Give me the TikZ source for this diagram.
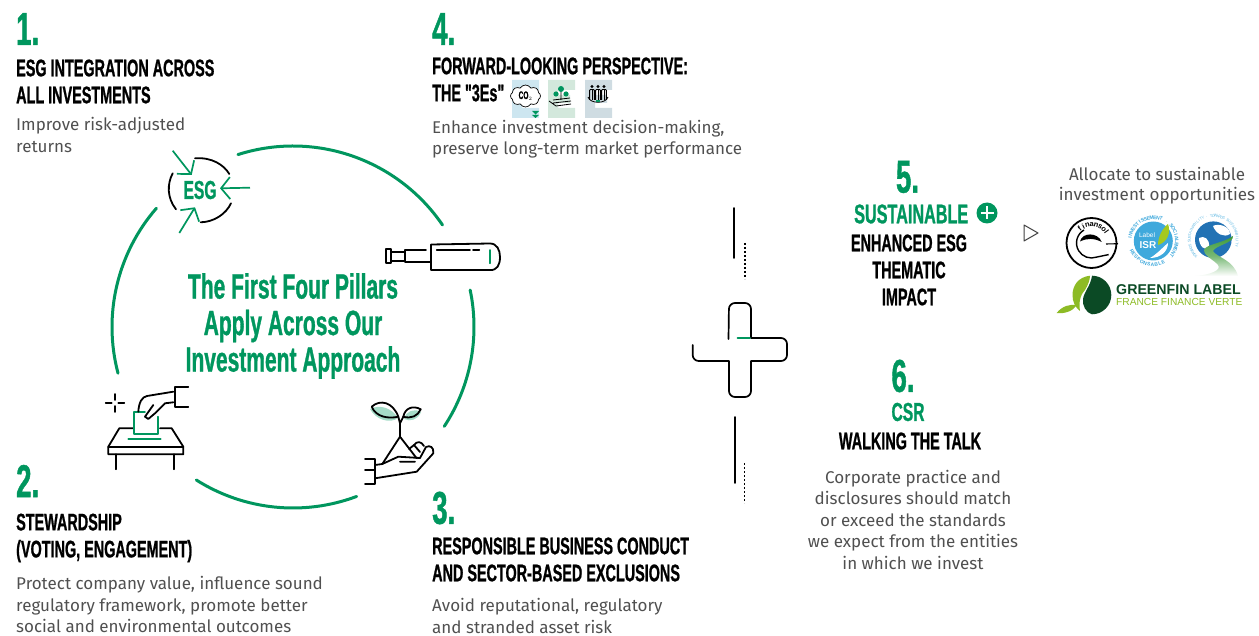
\documentclass[tikz,border=0pt]{standalone}
\usepackage{fontspec}
\usepackage{tikz}
\usetikzlibrary{calc,arrows.meta,shapes.symbols}
\setmainfont{Fira Sans}
\newfontfamily\headfont[FakeStretch=0.6,BoldFeatures={FakeBold=0.9}]{Liberation Sans}
\newfontfamily\logofont{Liberation Sans}
\definecolor{esggreen}{HTML}{00965E}
\definecolor{bodygray}{HTML}{505050}
\definecolor{mintleaf}{HTML}{A6DCC8}
\definecolor{isrblue}{HTML}{3FA9DC}
\definecolor{globeblue}{HTML}{2272B4}
\definecolor{roadgreen}{HTML}{3E9B3A}
\definecolor{finleaf}{HTML}{8DBB25}
\definecolor{findark}{HTML}{0B4A25}
\tikzset{
  numtext/.style={font=\headfont\bfseries\fontsize{46}{46}\selectfont,text=esggreen,inner sep=0pt},
  headtext/.style={font=\headfont\bfseries\fontsize{24}{27}\selectfont,text=black,inner sep=0pt},
  bodytext/.style={font=\fontsize{17}{21.5}\selectfont,text=bodygray,inner sep=0pt},
  pillartext/.style={font=\headfont\bfseries\fontsize{35}{36.5}\selectfont,text=esggreen,inner sep=0pt,align=center},
  pillararc/.style={draw=esggreen,line width=3pt,line cap=round},
  iconline/.style={draw=black,line width=1.8pt,line cap=round,line join=round},
  greenline/.style={draw=esggreen,line width=1.8pt,line cap=round,line join=round},
  esgarrow/.style={draw=esggreen,line width=1.7pt,-{Straight Barb[length=9pt,width=22pt]}},
  ringglyph/.style={inner sep=0pt,outer sep=0pt},
}
% letters round a logo: centre, radius, first angle, step, turn, style, letters
\newcommand{\ringtext}[7]{%
  \foreach \c [count=\n from 0] in {#7} {
    \pgfmathsetmacro{\ang}{#3+\n*#4}
    \node[ringglyph,#6,rotate=\ang+#5] (#1\n) at ([shift={(\ang:#2pt)}]#1) {\c};
  }}

\begin{document}
\begin{tikzpicture}[x=1pt,y=-1pt]
    \useasboundingbox (0,0) rectangle (1259,636);

    % pillars
    \node[numtext,anchor=west] (numA) at (16,29) {1.};
    \node[headtext,anchor=west,align=left] (headA) at (16,81.5) {ESG INTEGRATION ACROSS\\ALL INVESTMENTS};
    \node[bodytext,anchor=west,align=left] (bodyA) at (16,135) {Improve risk-adjusted\\returns};

    \node[numtext,anchor=west] (numB) at (16,481) {2.};
    \node[headtext,anchor=west,align=left] (headB) at (16,538) {STEWARDSHIP\\(VOTING, ENGAGEMENT)};
    \node[bodytext,anchor=west,align=left] (bodyB) at (16,604.5) {Protect company value, influence sound\\regulatory framework, promote better\\social and environmental outcomes};

    \node[numtext,anchor=west] (numC) at (432,508) {3.};
    \node[headtext,anchor=west,align=left] (headC) at (432,559.5) {RESPONSIBLE BUSINESS CONDUCT\\AND SECTOR-BASED EXCLUSIONS};
    \node[bodytext,anchor=west,align=left] (bodyC) at (432,616) {Avoid reputational, regulatory\\and stranded asset risk};

    \node[numtext,anchor=west] (numD) at (432,29) {4.};
    \node[headtext,anchor=west,align=left] (headD) at (432,79.5) {FORWARD-LOOKING PERSPECTIVE:\\THE "3Es"};
    \node[bodytext,anchor=west,align=left] (bodyD) at (432,139) {Enhance investment decision-making,\\preserve long-term market performance};

    \node[numtext] (numE) at (907.5,177) {5.};
    \node[headtext,text=esggreen,anchor=west,font=\headfont\bfseries\fontsize{27}{27}\selectfont] (headE) at (854,214) {SUSTAINABLE};
    \node[circle,fill=esggreen,minimum size=21pt,inner sep=0pt] (plusE) at (987,213) {};
    \draw[white,line width=2.4pt] (980.5,213) -- (993.5,213) (987,206.5) -- (987,219.5);
    \node[headtext,align=center] (listE) at (909,270) {ENHANCED ESG\\THEMATIC\\IMPACT};

    \node[numtext] (numF) at (903,376) {6.};
    \node[headtext,text=esggreen,font=\headfont\bfseries\fontsize{26}{27}\selectfont] (headF) at (908,412) {CSR};
    \node[headtext] (walkF) at (910,441) {WALKING THE TALK};
    \node[bodytext,align=center] (bodyF) at (913,519.5) {Corporate practice and\\disclosures should match\\or exceed the standards\\we expect from the entities\\in which we invest};

    \node[bodytext,align=center] (bodyG) at (1157,186) {Allocate to sustainable\\[-1.5pt]investment opportunities};
    \draw[draw=black!75,line width=1pt,line join=round] (1024,225) -- (1024,241) -- (1038,233) -- cycle;

    % circle of pillars
    \node[pillartext] (pillars) at (293,326) {The First Four Pillars\\Apply Across Our\\Investment Approach};
    \coordinate (hub) at (293,327);
    \foreach \a/\b in {107.7/34.3,11.8/-33.3,-69.4/-122.3,139/194.8} {
        \draw[pillararc] ([shift={(\a:181pt)}]hub) arc[start angle=\a,end angle=\b,radius=181pt];
    }

    % esg icon
    \node[font=\headfont\bfseries\fontsize{26}{26}\selectfont,text=esggreen,inner sep=0pt] (esg) at (200,190) {ESG};
    \draw[iconline] (195,158.3) .. controls (212,157) and (224,165) .. (229.3,174);
    \draw[iconline] (172.7,173.3) .. controls (167,184) and (167,198) .. (176,209.3);
    \draw[iconline] (200.7,222.3) .. controls (214,222) and (226,214) .. (231,203.3);
    \foreach \i/\fx/\fy/\tx/\ty in {a/172.7/150.7/191.7/175,b/250/187.7/220/188.3,c/179.3/233/195/207.3} {
        \coordinate (from\i) at (\fx,\fy);
        \coordinate (tip\i) at (\tx,\ty);
        \draw[esgarrow] (from\i) -- (tip\i);
    }

    % telescope
    \draw[iconline] (431,244.5) -- (490,243.5) .. controls (497,243.5) and (500,250) .. (500,257) .. controls (500,265) and (497,270.5) .. (490,270) -- (431,270) -- cycle;
    \draw[iconline] (436.7,250) -- (470,250) (473,250) -- (479.3,250);
    \draw[greenline] (489.7,250) -- (489.7,263.3);
    \draw[iconline] (426,250.3) -- (405,250.3) -- (405,261.7) -- (431,261.7);
    \draw[iconline] (385.7,249.3) rectangle (391,262.7);
    \draw[iconline] (391,251.7) -- (405,251.7) (391,261) -- (405,261);

    % ballot
    \draw[iconline] (105.7,402.7) -- (111.7,402.7) (118.3,402.7) -- (124.3,402.7) (115,394) -- (115,400) (115,406) -- (115,412);
    \draw[iconline] (133.3,428.3) -- (119.3,428.3) -- (108.3,446.7) -- (108.3,454.3) -- (183.3,454.3) -- (183.3,446.7) -- (171.7,428.3) -- (160,428.3);
    \draw[iconline] (108.3,446.7) -- (183.3,446.7);
    \draw[iconline] (116,454.3) -- (116,469.3) (174.3,454.3) -- (174.3,469.3);
    \draw[greenline] (145,411.7) -- (134,411.7) -- (134,434) -- (157.7,434) -- (157.7,416.7);
    \draw[greenline] (128.3,438.7) -- (160.7,438.7);
    \draw[iconline] (138.3,411.7) .. controls (139,402) and (142,397) .. (147,396) -- (173.3,391.7);
    \draw[iconline] (188.3,386.7) -- (175,386.7) -- (175,407.3) -- (188.3,407.3);
    \draw[iconline] (173.3,402.3) -- (165,403.3) -- (155,413.3) -- (148.3,419) -- (145,416.7) -- (153.3,405);

    % sprout in hand
    \fill[mintleaf] (370,409) .. controls (376,420) and (390,424) .. (398,418) .. controls (392,408) and (380,404) .. (370,409) -- cycle;
    \fill[mintleaf] (404,419) .. controls (410,422) and (418,420) .. (421,412) .. controls (414,408) and (406,411) .. (404,419) -- cycle;
    \draw[iconline] (371.7,406.7) .. controls (380,399) and (393,402) .. (398.3,416.7) .. controls (388,419) and (376,417) .. (371.7,406.7) -- cycle;
    \draw[iconline] (403.3,416.7) .. controls (405,408) and (413,405) .. (420.7,409.3) .. controls (418,416) and (411,419) .. (403.3,416.7) -- cycle;
    \draw[iconline] (398.3,416.7) -- (400,423.3) -- (403.3,416.7) (400,423.3) -- (400,436.7);
    \draw[iconline] (382.3,464) -- (400,436.7) -- (416.7,458.3);
    \draw[iconline] (365,459.3) -- (375,459.3) -- (375,484.3) -- (365,484.3) (365,470) -- (375,470);
    \draw[iconline] (375,465) -- (382.3,464) -- (398.3,456.7) -- (420,458) (400,461.7) -- (415,461.7);
    \draw[iconline] (375,478.3) -- (416.7,471.7) -- (433.3,453.3) .. controls (434,447) and (430,445) .. (426,447) -- (420,458);
    \draw[iconline] (409,449) -- (414,445) -- (420,452) (414,445) .. controls (417,441) and (421,441) .. (424,446);

    % the 3 Es
    \foreach \x/\col in {512/CDE6F0,548/D3E8DC,585/CFDCE2} {
        \definecolor{ebar}{HTML}{\col}
        \fill[ebar] (\x,80) -- ++(27,0) -- ++(0,10) -- ++(-17,0) -- ++(0,5) -- ++(12,0) -- ++(0,8) -- ++(-12,0) -- ++(0,5) -- ++(17,0) -- ++(0,10) -- ++(-27,0) -- cycle;
    }
    \node[cloud,draw=black,fill=white,line width=0.7pt,cloud puffs=8,cloud puff arc=120,aspect=1.3,minimum width=30pt,minimum height=22pt,inner sep=0pt,font=\headfont\bfseries\fontsize{11}{11}\selectfont] (cloudA) at (525.5,96) {CO$_{\scriptscriptstyle 2}$};
    \fill[esggreen] (532,111) -- (539,111) -- (535.5,114.5) -- cycle (532,115) -- (539,115) -- (535.5,118) -- cycle;
    \fill[esggreen] (561,89) circle (3pt) (556,94) circle (2.6pt) (566,94) circle (2.6pt);
    \draw[black,line width=0.8pt] (561,92) -- (561,100) (553,100) -- (570,98) (553,103) -- (571,101) (556,106) -- (571,104) (549,101) -- (556,106);
    \foreach \x in {592,598,604} {
        \fill[black] (\x,86.5) circle (1.7pt);
        \draw[black,line width=0.9pt,rounded corners=1pt] (\x-2.4,100) -- (\x-2.4,89.5) -- (\x+2.4,89.5) -- (\x+2.4,100);
        \draw[black,line width=0.7pt] (\x,90) -- (\x,100);
    }
    \draw[black,line width=0.8pt] (588,97) .. controls (590,104) and (606,104) .. (608,97);
    \fill[esggreen] (596,100) rectangle (600,102);

    % plus sign
    \draw[iconline,line width=1.7pt] (692.7,345) [rounded corners=6pt] -- (692.7,361) [sharp corners] -- (729,361) [rounded corners=6pt] -- (729,397) -- (751,397) [sharp corners] -- (751,361) [rounded corners=6pt] -- (787,361) -- (787,338) [sharp corners] -- (751,338) [rounded corners=6pt] -- (751,303) -- (729,303) [sharp corners] -- (728.5,339);
    \draw[greenline,line width=1.7pt] (737.5,338) -- (750,338);
    \foreach \x/\ya/\yb/\xb/\yc/\yd in {733.7/208/258/745/243/279,734.7/417/483/744.5/463/503} {
        \draw[iconline,line width=1.8pt] (\x,\ya) -- (\x,\yb);
        \draw[black,line width=1.6pt,dash pattern=on 1.6pt off 2.4pt] (\xb,\yc) -- (\xb,\yd);
    }

    % finansol logo
    \coordinate (finc) at (1091.5,243);
    \draw[black,line width=1.8pt] (finc) circle (25pt);
    \fill[black] (1080,241.5) .. controls (1082,232) and (1098,232) .. (1101.7,242) .. controls (1094,238) and (1087,238) .. (1080,241.5) -- cycle;
    \draw[black,line width=1.4pt] ([shift={(120:15pt)}]finc) arc[start angle=120,end angle=290,radius=15pt] -- ++(12,-2.5);
    \draw[black,line width=1.1pt] (1106,244) -- (1118,243.7);
    \ringtext{finc}{18.5}{130}{-13.5}{-90}{font=\logofont\bfseries\fontsize{7.5}{9}\selectfont}{f,i,n,a,n,s,o,l}

    % isr logo
    \coordinate (isrc) at (1153.3,241);
    \fill[isrblue] (isrc) circle (19.5pt);
    \fill[finleaf!80!yellow] (1158,245) .. controls (1158,236) and (1163,228) .. (1168,224) .. controls (1171,232) and (1168,242) .. (1158,245) -- cycle;
    \fill[white] (1150,258) .. controls (1157,254) and (1160,250) .. (1168,243) .. controls (1168,251) and (1161,258) .. (1150,258) -- cycle;
    \node[font=\logofont\fontsize{6.5}{6.5}\selectfont,text=white,inner sep=0pt] (isrlabel) at (1147,235) {Label};
    \node[font=\logofont\bfseries\fontsize{10}{10}\selectfont,text=white,inner sep=0pt] (isrname) at (1148,245) {ISR};
    \ringtext{isrc}{23.5}{172}{-7.8}{-90}{text=isrblue,font=\logofont\bfseries\fontsize{5}{5}\selectfont}{I,N,V,E,S,T,I,S,S,E,M,E,N,T,~,$\cdot$,~,S,O,C,I,A,L,E,M,E,N,T}
    \ringtext{isrc}{23.5}{205}{9}{90}{text=isrblue,font=\logofont\bfseries\fontsize{5}{5}\selectfont}{R,E,S,P,O,N,S,A,B,L,E}

    % globe logo
    \coordinate (globec) at (1213.3,239.7);
    \fill[globeblue] (globec) circle (18.3pt);
    \fill[white] (1213,226) .. controls (1218,223) and (1230,226) .. (1230,234) .. controls (1224,238) and (1216,234) .. (1213,226) -- cycle;
    \fill[white] (1199,238) .. controls (1204,235) and (1210,239) .. (1209,247) .. controls (1205,252) and (1199,246) .. (1199,238) -- cycle;
    \shade[top color=roadgreen,bottom color=white,middle color=roadgreen!70] (1233,236) .. controls (1234,243) and (1216,245) .. (1213,251) .. controls (1216,257) and (1234,260) .. (1238,276) -- (1195,276) .. controls (1210,275) and (1222,270) .. (1218,265) .. controls (1214,260) and (1204,256) .. (1204,250) .. controls (1206,244) and (1224,243) .. (1233,236) -- cycle;
    \ringtext{globec}{24}{225}{-5.2}{-90}{text=isrblue!80,font=\logofont\fontsize{3.8}{5}\selectfont}{T,O,W,A,R,D,S,~,S,U,S,T,A,I,N,A,B,I,L,I,T,Y,~,$\cdot$,~,T,O,W,A,R,D,S,~,S,U,S,T,A,I,N,A,B,I,L,I,T,Y}

    % greenfin logo
    \fill[findark] (1092,275.7) arc[start angle=90,end angle=-90,radius=19.3pt] .. controls (1086,313) and (1082,305) .. (1083,299) .. controls (1084,292) and (1091,285) .. (1092,275.7) -- cycle;
    \fill[finleaf] (1090,275.7) .. controls (1078,277) and (1072.5,286) .. (1072.5,295) .. controls (1072.5,302) and (1075,307) .. (1080,311) .. controls (1078,300) and (1082,293) .. (1085,290) .. controls (1088,285) and (1090,280) .. (1090,275.7) -- cycle;
    \fill[finleaf] (1056.7,313) .. controls (1062,306) and (1070,304) .. (1077,305) .. controls (1073,311) and (1065,314) .. (1056.7,313) -- cycle;
    \node[font=\logofont\bfseries\fontsize{14.2}{16}\selectfont,text=findark,inner sep=0pt,anchor=west] (gfname) at (1116,290) {GREENFIN LABEL};
    \node[font=\logofont\fontsize{10.2}{10}\selectfont,text=finleaf,inner sep=0pt,anchor=west] (gfsub) at (1116,302) {FRANCE FINANCE VERTE};
\end{tikzpicture}
\end{document}
